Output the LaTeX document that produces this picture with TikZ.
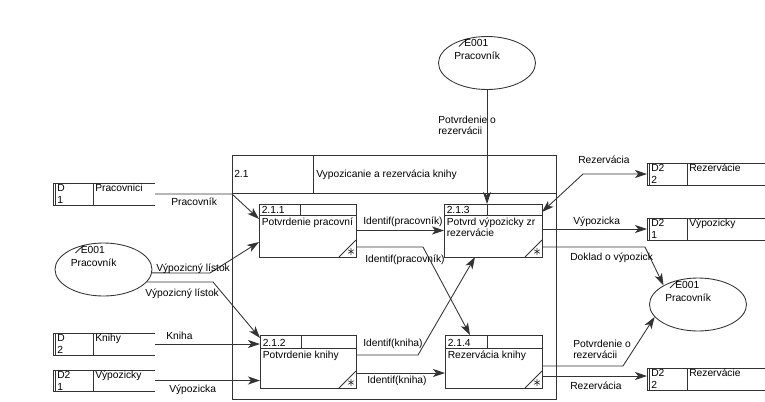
\documentclass[tikz,border=0pt]{standalone}
\usepackage{fontspec}
\setmainfont{Liberation Sans}
\usetikzlibrary{arrows.meta,shapes.geometric,fit,calc}
\newcommand\entdraw[3]{%
  \node[ent] (#1) at (#2,#3) {};
  \draw[ln] (#2-28,#3-16.5) to[bend left=8] (#2-19,#3-24);
  \node[txt] at (#2-23,#3-16.5) {E001};
  \node[txt] at (#2-33,#3-3.5) {Pracovník};
}
\newcommand\procdraw[9]{%
  \draw[ln] (#2,#3) rectangle (#4,#5);
  \draw[ln] (#2,#6) -- (#4,#6);
  \draw[ln] (#7,#3) -- (#7,#6);
  \draw[ln] (#4-17,#5) -- (#4,#5-17);
  \draw[ln,line width=0.45pt] (#4-5,#5-9)--(#4-5,#5-2) (#4-8,#5-7.3)--(#4-2,#5-3.7) (#4-8,#5-3.7)--(#4-2,#5-7.3);
  \coordinate (#1nw) at (#2,#3);
  \coordinate (#1se) at (#4,#5);
  \node[fitbox,fit=(#1nw)(#1se)] (#1) {};
  \node[txt] at (#2+2.5,#6-1.5) {#8};
  \node[txtn] at (#2+2.5,#6+2.5) {#9};
}
\newcommand\storedraw[9]{%
  \draw[ln] (#4,#3) -- (#2,#3) -- (#2,#5) -- (#4,#5);
  \draw[ln] (#2+2.5,#3) -- (#2+2.5,#5);
  \draw[ln] (#6,#3) -- (#6,#5);
  \coordinate (#1nw) at (#2,#3);
  \coordinate (#1se) at (#4,#5);
  \node[fitbox,fit=(#1nw)(#1se)] (#1) {};
  \node[txt] at (#2+4,#3+8) {#7};
  \node[txt] at (#2+4,#3+20.5) {#8};
  \node[txt] at (#6+2,#3+8) {#9};
}
\begin{document}
\begin{tikzpicture}[x=0.75pt,y=-0.75pt,
  ln/.style={draw=black!80,line width=0.65pt},
  tip/.tip={Stealth[length=9pt,width=6pt,inset=2.4pt]},
  arr/.style={ln,-tip},
  darr/.style={ln,tip-tip},
  txt/.style={font=\fontsize{7.7}{8.6}\selectfont,inner sep=0pt,anchor=base west},
  txtn/.style={txt,anchor=north west,align=left},
  ent/.style={ellipse,ln,minimum width=72.75pt,minimum height=39.75pt,inner sep=0pt},
  fitbox/.style={inner sep=0pt,outer sep=0pt}
]
\useasboundingbox (0,0) rectangle (765,401);

% container process 2.1
\draw[ln] (232,155) rectangle (556,399);
\draw[ln] (232,193) -- (556,193);
\draw[ln] (313,155) -- (313,193);
\node[txt] at (234,177) {2.1};
\node[txt] at (316,177) {Vypozicanie a rezervácia knihy};

% processes
\procdraw{P1}{259}{204}{356}{257}{215}{300}{2.1.1}{Potvrdenie pracovní}
\procdraw{P3}{444}{204}{542}{257}{215}{487}{2.1.3}{Potvrd výpozicky zr\\rezervácie}
\procdraw{P2}{260}{335}{356}{388}{348}{301}{2.1.2}{Potvrdenie knihy}
\procdraw{P4}{445}{335}{542}{388}{348}{487}{2.1.4}{Rezervácia knihy}

% data stores
\storedraw{S1}{53}{183}{155}{205}{93}{D}{1}{Pracovnici}
\storedraw{S2}{53}{333}{155}{355}{93}{D}{2}{Knihy}
\storedraw{S3}{53}{370}{155}{391}{93}{D2}{1}{Výpozicky}
\storedraw{S4}{647}{163}{765}{185}{687}{D2}{2}{Rezervácie}
\storedraw{S5}{647}{218}{765}{240}{687}{D2}{1}{Výpozicky}
\storedraw{S6}{647}{368}{765}{390}{687}{D2}{2}{Rezervácie}

% external entities
\entdraw{E1}{487}{63}
\entdraw{E2}{103.5}{269.5}
\entdraw{E3}{698}{304.5}

% flows
\draw[arr] (S1.east) -- (232,194) -- (P1.west |- 0,219);
\draw[arr] (E2.-4) -- (210,273) -- (P1.west |- 0,242);
\draw[arr] (E2.-16) -- (213,282) -- (P2.west |- 0,338);
\draw[arr] (S2.east) -- (P2.west |- S2.east);
\draw[arr] (S3.east) -- (P2.west |- S3.east);
\draw[arr] (P1.east) -- (P3.west);
\draw[arr] (P1.east |- 0,247) -- (423,247) -- (P4.north -| 470,0);
\draw[arr] (P2.east |- 0,355) -- (418,355) -- (P3.south -| 475,0);
\draw[arr] (P2.east |- 0,373) -- (P4.west |- 0,373);
\draw[arr] (E1.south) -- (P3.north -| E1.south);
\draw[darr] (S4.west) -- (583,174) -- (P3.east |- 0,212);
\draw[arr] (P3.east |- S5.west) -- (S5.west);
\draw[arr] (P3.east |- 0,247) -- (645,247) -- (E3.151);
\draw[arr] (P4.east |- 0,366) -- (623,366) -- (E3.196);
\draw[arr] (P4.east |- 0,376) -- (S6.west |- 0,376);

% flow labels
\node[txt] at (171,205.5) {Pracovník};
\node[txt] at (156,271) {Výpozicný lístok};
\node[txt] at (145,296.5) {Výpozicný lístok};
\node[txt] at (166,339) {Kniha};
\node[txt] at (169,392.5) {Výpozicka};
\node[txt] at (363,224) {Identif(pracovník)};
\node[txt] at (365,262.7) {Identif(pracovník)};
\node[txt] at (363,346) {Identif(kniha)};
\node[txt] at (367,383) {Identif(kniha)};
\node[txtn] at (438,115.7) {Potvrdenie o\\rezervácii};
\node[txt] at (578,163.5) {Rezervácia};
\node[txt] at (573,224.5) {Výpozicka};
\node[txt] at (570,260.5) {Doklad o výpozick};
\node[txtn] at (573,339.5) {Potvrdenie o\\rezervácii};
\node[txt] at (570,389.5) {Rezervácia};
\end{tikzpicture}
\end{document}
